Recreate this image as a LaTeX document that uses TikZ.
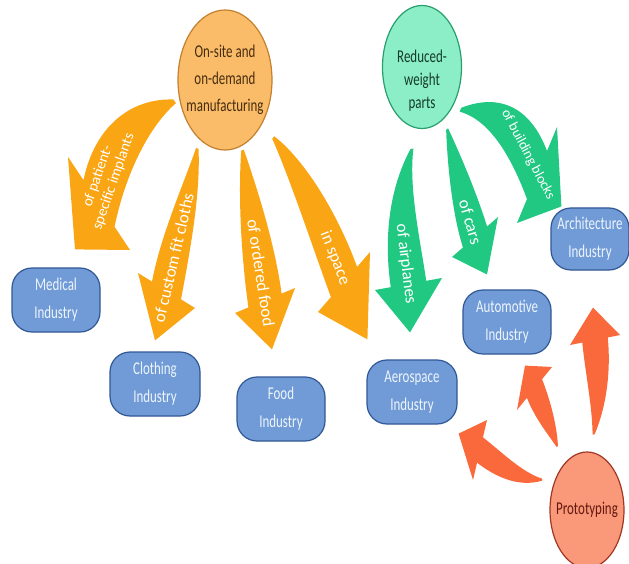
\documentclass[tikz,border=0pt]{standalone}
\usepackage{fontspec}
\setmainfont{Carlito}
\newfontfamily\nodefont{Carlito}[FakeStretch=0.72]
\usetikzlibrary{shapes.geometric,calc}

\definecolor{orangearrow}{RGB}{250,165,20}
\definecolor{onsitefill}{RGB}{250,188,105}
\definecolor{onsiteline}{RGB}{196,128,45}
\definecolor{onsitetext}{RGB}{70,45,15}
\definecolor{greenarrow}{RGB}{32,200,130}
\definecolor{reducedfill}{RGB}{140,238,198}
\definecolor{reducedline}{RGB}{40,160,110}
\definecolor{reducedtext}{RGB}{20,60,40}
\definecolor{redarrow}{RGB}{250,105,60}
\definecolor{protofill}{RGB}{250,152,122}
\definecolor{protoline}{RGB}{160,55,35}
\definecolor{prototext}{RGB}{100,25,15}
\definecolor{boxfill}{RGB}{112,155,214}
\definecolor{boxline}{RGB}{50,88,148}
\definecolor{boxtext}{RGB}{238,244,252}

% tapered curved block arrow
% #1 fill, #2 tail, #3 #4 controls, #5 head base middle, #6 tip,
% #7 body half width, #8 half of the head base, #9 label
\newcommand{\blockarrow}[9]{%
  \coordinate (ba-t) at #2;
  \coordinate (ba-c1) at #3;
  \coordinate (ba-c2) at #4;
  \coordinate (ba-m) at #5;
  \coordinate (ba-tip) at #6;
  \coordinate (ba-hl) at ($(ba-m)+#8$);
  \coordinate (ba-hr) at ($(ba-m)-#8$);
  \coordinate (ba-bl) at ($(ba-m)!#7!(ba-hl)$);
  \coordinate (ba-br) at ($(ba-m)!#7!(ba-hr)$);
  \coordinate (ba-tl) at ($(ba-t)+0.08*(ba-bl)-0.08*(ba-m)$);
  \coordinate (ba-tr) at ($(ba-t)+0.08*(ba-br)-0.08*(ba-m)$);
  \coordinate (ba-c1l) at ($(ba-c1)+0.6*(ba-bl)-0.6*(ba-m)$);
  \coordinate (ba-c1r) at ($(ba-c1)+0.6*(ba-br)-0.6*(ba-m)$);
  \coordinate (ba-c2l) at ($(ba-c2)+(ba-bl)-(ba-m)$);
  \coordinate (ba-c2r) at ($(ba-c2)+(ba-br)-(ba-m)$);
  \fill[#1] (ba-tl) .. controls (ba-c1l) and (ba-c2l) .. (ba-bl)
    -- (ba-hl) -- (ba-tip) -- (ba-hr) -- (ba-br)
    .. controls (ba-c2r) and (ba-c1r) .. (ba-tr) -- cycle;
  \path (ba-t) .. controls (ba-c1) and (ba-c2) .. (ba-m) #9;
}

\begin{document}
\begin{tikzpicture}[x=1pt,y=-1pt,
  hub/.style={ellipse,draw,line width=1.2pt,inner sep=-8pt,align=center,
    font=\nodefont\fontsize{18}{27}\selectfont},
  industry/.style={rectangle,rounded corners=20pt,draw=boxline,fill=boxfill,
    line width=1.2pt,minimum width=88pt,minimum height=64pt,inner sep=0pt,
    align=center,text=boxtext,font=\nodefont\fontsize{18}{28}\selectfont},
  lbl/.style={sloped,text=white,align=center,inner sep=0pt,
    font=\fontsize{17}{19}\selectfont}]

  \path[use as bounding box,fill=white] (0,0) rectangle (629,564);

  % sources
  \node[hub,fill=onsitefill,draw=onsiteline,text=onsitetext,
    minimum width=94pt,minimum height=140pt] (onsite) at (225,80)
    {On-site and\\on-demand\\manufacturing};
  \node[hub,fill=reducedfill,draw=reducedline,text=reducedtext,
    minimum width=79pt,minimum height=123pt,
    font=\nodefont\fontsize{18}{23}\selectfont] (reduced) at (422,67)
    {\rule{0pt}{40pt}Reduced-\\weight\\parts};
  \node[hub,fill=protofill,draw=protoline,text=prototext,
    minimum width=74pt,minimum height=116pt] (proto) at (587,510) {Prototyping};

  % industries
  \node[industry] (med) at (56,300) {Medical\\Industry};
  \node[industry,minimum width=90pt] (cloth) at (155,384) {Clothing\\Industry};
  \node[industry] (food) at (281,409) {Food\\Industry};
  \node[industry,minimum width=90pt] (aero) at (412,392) {Aerospace\\Industry};
  \node[industry] (auto) at (507,322) {Automotive\\Industry};
  \node[industry,minimum width=78pt,minimum height=62pt] (arch) at (590,239)
    {Architecture\\Industry};

  % on-site and on-demand manufacturing
  \blockarrow{orangearrow}{($(onsite)!1.1!(onsite.203)$)}{(140,112)}{(110,150)}
    {(99,203.5)}{($(med.north)+(19,-18)$)}{28pt}{(31,46.5)}
    {node[lbl,pos=.84,font=\fontsize{15}{17}\selectfont]{of patient-\\specific implants}}
  \blockarrow{orangearrow}{($(onsite)!1.13!(onsite.248)$)}{(192,190)}{(175,245)}
    {(166.5,290.5)}{($(cloth.north)+(0,-11)$)}{17pt}{(28.5,17.5)}
    {node[lbl,pos=.77]{of custom fit cloths}}
  \blockarrow{orangearrow}{($(onsite)!1.06!(onsite.284)$)}{(248,195)}{(258,250)}
    {(265,300.5)}{($(food.north)+(-9,-27)$)}{18pt}{(30,-12.5)}
    {node[lbl,pos=.82]{of ordered food}}
  \blockarrow{orangearrow}{($(onsite)!1.3!(onsite.310)$)}{(298,170)}{(325,230)}
    {(344,282)}{($(aero.north west)+(1,-20)$)}{20pt}{(26,-30)}
    {node[lbl,pos=.85]{in space}}

  % reduced-weight parts
  \blockarrow{greenarrow}{($(reduced)!1.34!(reduced.263)$)}{(398,190)}{(402,240)}
    {(408.5,284)}{($(aero.north)+(-2,-27)$)}{18pt}{(33.5,-6)}
    {node[lbl,pos=.85,allow upside down]{of airplanes}}
  \blockarrow{greenarrow}{($(reduced)!1.18!(reduced.292)$)}{(455,165)}{(465,205)}
    {(475,237)}{($(auto.north)+(-20,-15)$)}{16pt}{(23,-20)}
    {node[lbl,pos=.85]{of cars}}
  \blockarrow{greenarrow}{($(reduced)!1.18!(reduced.312)$)}{(497,106)}{(522,135)}
    {(537,175)}{($(arch.north west)+(11,-1)$)}{26pt}{(20,-48)}
    {node[lbl,pos=.82,font=\fontsize{14}{16}\selectfont]{of building blocks}}

  % prototyping
  \blockarrow{redarrow}{($(proto)!1.3!(proto.146)$)}{(520,480)}{(498,464)}
    {(480,450)}{($(aero.south east)+(1,9)$)}{13pt}{(7,-30)}{}
  \blockarrow{redarrow}{($(proto)!1.34!(proto.115)$)}{(552,428)}{(542,408)}
    {(534.5,388.5)}{($(auto.south)+(18,11)$)}{12pt}{(17.5,-21.5)}{}
  \blockarrow{redarrow}{($(proto)!1.3!(proto.85)$)}{(600,405)}{(598,370)}
    {(595,340)}{($(arch.south)+(3,37)$)}{13pt}{(25,-5)}{}
\end{tikzpicture}
\end{document}
